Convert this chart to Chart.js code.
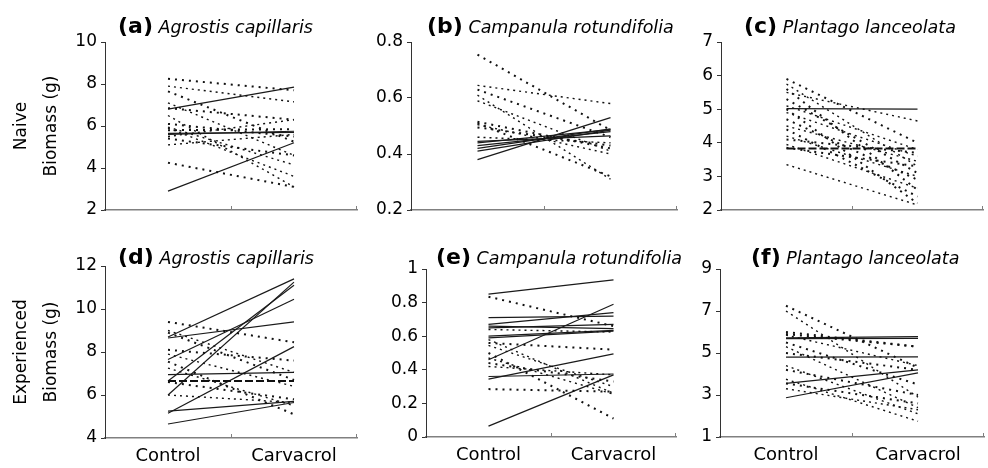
<!DOCTYPE html>
<html>
<head>
<meta charset="utf-8">
<script src="https://cdn.jsdelivr.net/npm/chart.js@4.4.1/dist/chart.umd.min.js"></script>
<style>
  html, body { margin: 0; padding: 0; background: #fff; }
  #wrap { position: relative; width: 988px; height: 468px; overflow: hidden; }
  canvas { position: absolute; }
</style>
</head>
<body>
<div id="wrap">
  <canvas id="pa" width="360" height="230" style="left:0;top:0"></canvas>
  <canvas id="pb" width="340" height="230" style="left:360px;top:0"></canvas>
  <canvas id="pc" width="308" height="230" style="left:680px;top:0"></canvas>
  <canvas id="pd" width="360" height="238" style="left:0;top:230px"></canvas>
  <canvas id="pe" width="340" height="238" style="left:360px;top:230px"></canvas>
  <canvas id="pf" width="308" height="238" style="left:680px;top:230px"></canvas>
</div>
<script>
const treatments = ['Control', 'Carvacrol'];

// each pair is [control, carvacrol] biomass for one population
// (a) Agrostis capillaris, naive
const aSolid = [[6.8, 7.85], [5.6, 5.75], [5.65, 5.7], [2.9, 5.2]];
const aDotted = [[8.25, 7.7], [7.9, 7.15], [7.65, 5.25], [7.1, 4.6], [6.85, 6.3], [6.5, 3.1], [6.1, 5.5],
  [5.95, 4.15], [5.8, 5.85], [5.5, 6.3], [5.4, 4.6], [5.1, 5.6], [4.25, 3.1], [5.9, 3.6]];
const aTicks = [2, 10, 2];

// (b) Campanula rotundifolia, naive
const bSolid = [[0.445, 0.465], [0.44, 0.487], [0.43, 0.48], [0.42, 0.49], [0.41, 0.485], [0.38, 0.53]];
const bDotted = [[0.755, 0.485], [0.645, 0.58], [0.63, 0.46], [0.61, 0.31], [0.515, 0.42], [0.505, 0.40],
  [0.495, 0.43], [0.46, 0.44], [0.51, 0.32], [0.59, 0.41]];
const bTicks = [0.2, 0.8, 0.2];

// (c) Plantago lanceolata, naive
const cSolid = [[5.02, 5.0]];
const cDashed = [[3.83, 3.83]];
const cDotted = [[5.9, 4.0], [5.75, 3.3], [5.6, 2.6], [5.5, 4.65], [5.3, 3.1], [5.1, 3.8], [5.0, 2.2],
  [4.9, 3.6], [4.7, 2.9], [4.5, 3.45], [4.4, 2.4], [4.2, 3.0], [4.1, 3.7], [3.95, 2.65], [3.85, 3.3], [3.35, 2.15]];
const cTicks = [2, 7, 1];

// (d) Agrostis capillaris, experienced
const dSolid = [[8.7, 11.4], [8.65, 9.4], [7.65, 10.45], [6.65, 11.1], [6.0, 11.25], [6.95, 7.05],
  [5.15, 8.25], [5.25, 5.7], [4.65, 5.65]];
const dDashed = [[6.65, 6.65]];
const dDotted = [[9.4, 8.45], [9.0, 7.05], [8.1, 7.6], [7.9, 6.4], [7.55, 5.1], [7.25, 5.5], [6.6, 5.8],
  [6.0, 5.65], [8.9, 6.7]];
const dTicks = [4, 12, 2];

// (e) Campanula rotundifolia, experienced
const eSolid = [[0.85, 0.935], [0.71, 0.72], [0.67, 0.74], [0.66, 0.645], [0.65, 0.67], [0.6, 0.635],
  [0.59, 0.63], [0.46, 0.79], [0.36, 0.375], [0.345, 0.495], [0.065, 0.37]];
const eDotted = [[0.835, 0.66], [0.64, 0.625], [0.56, 0.52], [0.545, 0.3], [0.5, 0.11], [0.47, 0.255],
  [0.44, 0.33], [0.42, 0.37], [0.285, 0.27], [0.58, 0.26]];
const eTicks = [0, 1, 0.2];

// (f) Plantago lanceolata, experienced
const fSolid = [[5.72, 5.78], [5.68, 5.7], [4.8, 4.82], [3.55, 4.2], [2.87, 4.05]];
const fDotted = [[7.25, 4.3], [7.0, 2.9], [6.0, 5.3], [5.85, 4.4], [5.5, 3.5], [5.3, 2.4], [5.0, 4.2],
  [4.4, 2.1], [4.2, 3.0], [3.75, 1.75], [3.55, 2.6], [3.3, 2.3], [5.9, 5.3]];
const fTicks = [1, 9, 2];

const FONT = "'DejaVu Sans', sans-serif";

// bold panel letter followed by italic species name
const panelTitle = {
  id: 'panelTitle',
  afterDraw(chart, args, opts) {
    const ctx = chart.ctx;
    ctx.save();
    ctx.fillStyle = '#000';
    ctx.textAlign = 'left';
    ctx.textBaseline = 'alphabetic';
    ctx.font = 'bold 22px ' + FONT;
    ctx.fillText(opts.tag, opts.x, opts.y);
    const w = ctx.measureText(opts.tag).width;
    ctx.font = 'italic 17.5px ' + FONT;
    const sp = ctx.measureText(' ').width;
    ctx.fillText(opts.name, opts.x + w + sp, opts.y);
    ctx.restore();
  }
};

// small upward marks on the x axis between and after the two groups
const axisMarks = {
  id: 'axisMarks',
  afterDraw(chart) {
    const x = chart.scales.x;
    const ctx = chart.ctx;
    const mid = (x.getPixelForValue(0) + x.getPixelForValue(1)) / 2;
    ctx.save();
    ctx.strokeStyle = '#808080';
    ctx.lineWidth = 1;
    [mid, x.right - 1].forEach(m => {
      const px = Math.round(m) + 0.5;
      ctx.beginPath();
      ctx.moveTo(px, x.top);
      ctx.lineTo(px, x.top - 4);
      ctx.stroke();
    });
    ctx.restore();
  }
};

function panel(id, p) {
  const datasets = [];
  p.dotted.forEach((v, i) => datasets.push({
    data: v,
    borderColor: '#111',
    borderWidth: i % 2 ? 1.4 : 2,
    borderDash: i % 2 ? [2, 4] : [2, 5]
  }));
  (p.dashed || []).forEach(v => datasets.push({
    data: v, borderColor: '#111', borderWidth: 2, borderDash: [8, 3]
  }));
  p.solid.forEach(v => datasets.push({
    data: v, borderColor: '#1a1a1a', borderWidth: 1.2
  }));

  new Chart(document.getElementById(id), {
    type: 'line',
    data: { labels: treatments, datasets },
    options: {
      responsive: false,
      animation: false,
      layout: { padding: p.pad },
      elements: { point: { radius: 0 }, line: { tension: 0, fill: false } },
      plugins: {
        legend: { display: false },
        tooltip: { enabled: false },
        panelTitle: p.title
      },
      scales: {
        x: {
          offset: true,
          grid: { display: false, drawTicks: false, offset: true },
          border: { color: '#808080', width: 1.5 },
          ticks: { display: p.showX, color: '#000', font: { family: FONT, size: 18 }, padding: 8 },
          afterFit: s => { s.height = p.xh; }
        },
        y: {
          min: p.ticks[0],
          max: p.ticks[1],
          ticks: {
            stepSize: p.ticks[2],
            color: '#000',
            font: { family: FONT, size: 17 },
            padding: 4,
            callback: v => String(+v.toFixed(2))
          },
          grid: { drawOnChartArea: false, tickLength: 4, color: '#333' },
          border: { color: '#333', width: 1 },
          title: {
            display: !!p.yTitle,
            text: p.yTitle,
            color: '#000',
            font: { family: FONT, size: 17, lineHeight: 1.75 },
            padding: { top: 7, bottom: 0 }
          },
          afterFit: s => { s.width = p.yw; }
        }
      }
    },
    plugins: [panelTitle, axisMarks]
  });
}

panel('pa', { solid: aSolid, dotted: aDotted, ticks: aTicks, yw: 105, xh: 20, showX: false,
  pad: { top: 42, right: 3, bottom: 0, left: 0 }, yTitle: ['Naive', 'Biomass (g)'],
  title: { tag: '(a)', name: 'Agrostis capillaris', x: 118, y: 33 } });
panel('pb', { solid: bSolid, dotted: bDotted, ticks: bTicks, yw: 51, xh: 20, showX: false,
  pad: { top: 42, right: 23, bottom: 0, left: 0 },
  title: { tag: '(b)', name: 'Campanula rotundifolia', x: 67, y: 33 } });
panel('pc', { solid: cSolid, dashed: cDashed, dotted: cDotted, ticks: cTicks, yw: 41, xh: 20, showX: false,
  pad: { top: 42, right: 5, bottom: 0, left: 0 },
  title: { tag: '(c)', name: 'Plantago lanceolata', x: 64, y: 33 } });
panel('pd', { solid: dSolid, dashed: dDashed, dotted: dDotted, ticks: dTicks, yw: 105, xh: 30, showX: true,
  pad: { top: 36, right: 3, bottom: 0, left: 0 }, yTitle: ['Experienced', 'Biomass (g)'],
  title: { tag: '(d)', name: 'Agrostis capillaris', x: 118, y: 34 } });
panel('pe', { solid: eSolid, dotted: eDotted, ticks: eTicks, yw: 66, xh: 31, showX: true,
  pad: { top: 39, right: 24, bottom: 0, left: 0 },
  title: { tag: '(e)', name: 'Campanula rotundifolia', x: 76, y: 34 } });
panel('pf', { solid: fSolid, dotted: fDotted, ticks: fTicks, yw: 40, xh: 31, showX: true,
  pad: { top: 39, right: 4, bottom: 0, left: 0 },
  title: { tag: '(f)', name: 'Plantago lanceolata', x: 71, y: 34 } });
</script>
</body>
</html>
